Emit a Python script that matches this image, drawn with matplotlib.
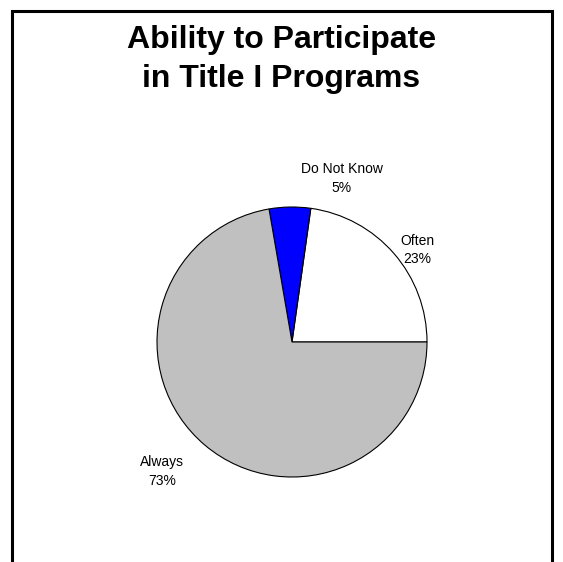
import matplotlib
matplotlib.use("Agg")
import matplotlib.pyplot as plt
from matplotlib.patches import Rectangle

plt.rcParams['font.family'] = ['Liberation Sans', 'DejaVu Sans']

# survey answers, drawn counter-clockwise from 3 o'clock
categories = ['Often', 'Do Not Know', 'Always']
shares = [23, 5, 73]
colors = ['#FFFFFF', '#0000FF', '#C0C0C0']
# where each label block sits (pie radius = 1)
label_pos = [(0.93, 0.68), (0.37, 1.21), (-0.96, -0.96)]

W, H = 563, 562
fig = plt.figure(figsize=(W / 100, H / 100), dpi=100)
ax = fig.add_axes([0, 0, 1, 1])

ax.pie(shares, colors=colors, startangle=0, counterclock=True,
       wedgeprops=dict(edgecolor='black', linewidth=0.8))

# pie resets the limits, so place it afterwards
r = 135.0  # pie radius in pixels
cx, cy = 292, 342
ax.set_xlim(-cx / r, (W - cx) / r)
ax.set_ylim(-(H - cy) / r, cy / r)
ax.set_aspect('equal')
ax.axis('off')

for name, val, (x, y) in zip(categories, shares, label_pos):
    ax.text(x, y, f"{name}\n{val}%", ha='center', va='center',
            fontsize=10, linespacing=1.4)

fig.text(0.5, 1 - 25 / H, "Ability to Participate\nin Title I Programs",
         ha='center', va='top', fontsize=23, fontweight='bold',
         linespacing=1.38)

# outer frame, open at the bottom edge
fig.patches.append(Rectangle((12 / W, -0.05), 540 / W, 1.05 - 11 / H,
                             transform=fig.transFigure, fill=False,
                             edgecolor='black', linewidth=2.2))

fig.savefig("out.png", dpi=100)
